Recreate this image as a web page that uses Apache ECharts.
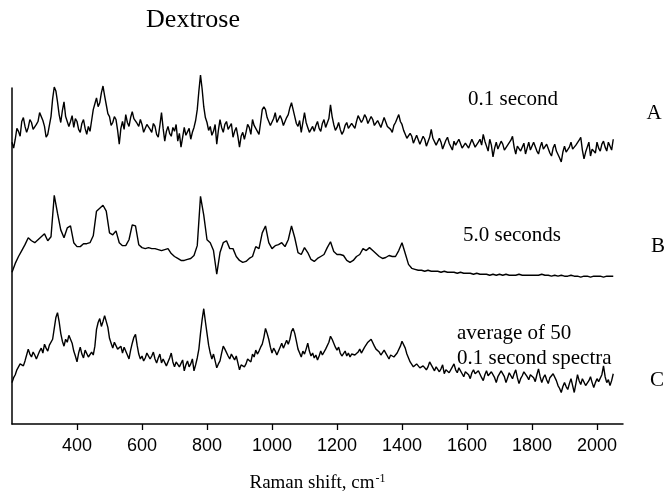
<!DOCTYPE html>
<html>
<head>
<meta charset="utf-8">
<script src="https://cdn.jsdelivr.net/npm/echarts@6/dist/echarts.min.js"></script>
<style>
html,body{margin:0;padding:0;background:#fff;}
#chart{width:668px;height:498px;}
</style>
</head>
<body>
<div id="chart"></div>
<script>
// Raman shift of the first reading (cm-1) and spacing of readings per trace
const shiftStart = 200;
const stepA = 5;
const stepB = 10;
const stepC = 5;

// Trace A: 0.1 second (stacked intensity, arbitrary units), 200..2050 every 5 cm-1
const traceA = [
  286,280,289,300,297,292,307,311,302,296,301,309,306,299,297,304,307,316,314,308,
  302,291,294,303,312,330,342,338,327,314,306,318,327,312,314,302,307,313,301,310,
  307,299,296,305,309,300,294,302,297,308,319,325,331,322,326,336,343,333,324,315,
  312,303,306,312,309,298,284,300,307,299,314,306,302,311,317,310,312,305,302,309,
  304,296,297,304,306,299,296,305,302,294,291,303,316,300,287,297,302,295,292,301,
  297,304,287,295,281,291,301,293,294,300,289,296,301,308,319,338,354,340,322,311,
  306,298,302,293,297,304,284,298,309,301,296,304,307,299,297,305,291,297,301,292,
  281,292,296,289,296,304,301,294,309,303,301,297,294,306,319,322,319,311,309,303,
  304,310,316,306,307,313,309,303,304,311,314,321,326,319,312,305,302,308,296,306,
  316,306,301,296,294,302,297,303,307,300,297,305,309,301,302,310,324,312,304,298,
  301,306,299,294,297,303,306,300,299,305,304,300,307,313,312,306,309,314,311,305,
  306,312,309,303,302,308,307,301,306,311,309,302,304,299,296,303,306,310,314,307,
  304,298,294,290,289,295,292,285,287,293,291,284,286,292,289,282,284,291,299,290,
  289,283,282,290,286,279,281,288,291,285,284,278,287,283,281,289,287,280,279,285,
  286,280,282,289,287,281,279,286,289,283,294,287,282,277,289,283,271,280,286,279,
  281,287,284,278,276,283,282,288,292,281,274,282,284,277,279,285,274,280,286,278,
  279,286,284,277,274,281,286,279,277,284,282,275,272,280,284,277,276,270,266,276,
  282,276,274,281,286,279,277,283,284,288,291,278,269,276,281,286,272,279,281,275,
  286,280,277,284,287,281,277,286,284,278,289];

// Trace B: 5.0 seconds, 200..2050 every 10 cm-1
const traceB = [154,
  163,170,176,182,189,186,184,187,190,
  193,186,190,232,214,197,189,199,201,184,
  180,180,183,183,184,191,216,219,222,216,
  194,192,196,184,181,181,187,202,201,182,
  179,178,179,178,178,177,176,177,178,173,
  170,168,166,166,167,168,171,181,231,212,
  187,184,176,152,174,184,186,178,178,170,
  166,164,165,168,170,180,178,194,201,184,
  178,181,182,184,180,187,201,189,174,172,
  179,174,167,165,168,170,172,179,185,175,
  172,172,171,166,164,166,170,172,178,176,
  179,176,173,170,168,169,171,170,170,176,
  184,173,162,158,157,156,156,155,156,155,
  155,155,154,155,154,154,154,153,154,153,
  153,153,152,153,152,152,152,151,152,151,
  152,151,152,151,151,151,152,151,151,151,
  151,151,151,152,151,151,150,151,150,151,
  150,150,151,150,150,149,150,150,149,150,
  150,150,149,150,150,150];

// Trace C: average of 50 spectra of 0.1 second, 200..2050 every 5 cm-1
const traceC = [
  42,47,50,55,57,61,62,59,64,70,76,71,68,73,70,66,68,74,77,72,
  81,77,74,80,79,86,97,108,113,104,92,84,79,86,83,90,91,82,74,69,
  63,72,78,71,67,75,74,68,66,73,70,79,96,103,107,99,104,110,111,98,
  87,82,77,83,81,76,74,79,72,78,77,70,66,75,82,88,91,80,71,66,
  69,64,67,72,71,66,69,73,66,62,67,71,62,66,64,59,61,67,72,63,
  58,63,64,58,59,65,54,60,64,58,61,66,54,60,67,76,92,106,117,104,
  92,80,72,66,71,64,57,61,64,72,79,76,74,69,66,71,72,65,69,62,
  55,60,62,58,61,66,67,63,71,68,75,71,74,78,81,88,97,92,86,78,
  72,77,74,70,72,78,82,77,81,85,81,86,94,97,92,84,76,72,68,74,
  71,76,82,74,69,72,67,70,65,69,74,70,72,76,77,83,89,86,82,78,
  75,78,72,69,71,74,69,72,68,71,73,70,69,73,76,72,75,78,79,83,
  82,86,84,79,76,74,73,70,71,75,72,69,66,70,71,68,69,72,74,79,
  84,82,77,71,67,63,61,58,57,61,62,57,55,59,60,55,58,63,62,57,
  54,58,59,53,56,60,51,55,57,52,53,58,61,55,52,57,56,51,48,53,
  55,50,46,52,55,51,49,54,53,47,44,50,54,49,47,53,52,47,42,48,
  50,54,55,48,42,47,52,49,46,51,55,47,41,46,49,53,54,48,45,50,
  52,47,43,50,56,48,42,47,50,45,41,47,46,51,49,44,39,36,32,38,
  42,38,35,41,46,39,32,41,50,44,40,46,44,39,38,44,48,42,37,42,
  46,43,41,50,59,48,42,45,39,44,51];

const xTicks = [400, 600, 800, 1000, 1200, 1400, 1600, 1800, 2000];

function pairs(vals, step) {
  return vals.map((v, i) => [shiftStart + i * step, v]);
}

const chart = echarts.init(document.getElementById('chart'), null, {renderer: 'canvas'});
const serif = '"Liberation Serif", "Times New Roman", serif';
const sans = '"Liberation Sans", Arial, sans-serif';

function lineSeries(name, vals, step) {
  return {
    name: name,
    type: 'line',
    data: pairs(vals, step),
    showSymbol: false,
    symbol: 'none',
    clip: false,
    lineStyle: {color: '#000', width: 1.4},
    silent: true
  };
}

function txt(text, x, y, align, size) {
  return {
    type: 'text',
    style: {
      text: text, x: x, y: y,
      fill: '#000',
      font: size + 'px ' + serif,
      textAlign: align, align: align,
      textVerticalAlign: 'middle', verticalAlign: 'middle'
    }
  };
}

chart.setOption({
  animation: false,
  backgroundColor: '#fff',
  grid: {left: 12, right: 45, top: 88, bottom: 69, containLabel: false},
  xAxis: {
    type: 'value',
    min: 200, max: 2080, interval: 200,
    name: '{a|Raman shift, cm}{s|-1}',
    nameLocation: 'middle',
    nameGap: 49,
    nameTextStyle: {
      rich: {
        a: {fontFamily: serif, fontSize: 19, color: '#000', verticalAlign: 'bottom', lineHeight: 20},
        s: {fontFamily: serif, fontSize: 12, color: '#000', verticalAlign: 'bottom', lineHeight: 20, padding: [0, 0, 8, 1]}
      }
    },
    axisLine: {show: true, lineStyle: {color: '#000', width: 1.5}},
    axisTick: {show: true, inside: false, length: 6, lineStyle: {color: '#000', width: 1.3}},
    axisLabel: {
      color: '#000', fontFamily: sans, fontSize: 18, margin: 13,
      showMinLabel: false, showMaxLabel: false,
      formatter: v => (xTicks.indexOf(v) >= 0 ? String(v) : '')
    },
    splitLine: {show: false}
  },
  yAxis: {
    type: 'value',
    min: 0, max: 341,
    axisLine: {show: true, lineStyle: {color: '#000', width: 1.5}},
    axisTick: {show: false},
    axisLabel: {show: false},
    splitLine: {show: false}
  },
  series: [
    lineSeries('A', traceA, stepA),
    lineSeries('B', traceB, stepB),
    lineSeries('C', traceC, stepC)
  ],
  graphic: [
    txt('Dextrose', 193, 20, 'center', 26),
    txt('0.1 second', 513, 99, 'center', 21),
    txt('A', 654, 113, 'center', 21),
    txt('5.0 seconds', 512, 235, 'center', 21),
    txt('B', 658, 246, 'center', 21),
    txt('average of 50', 457, 333, 'left', 21),
    txt('0.1 second spectra', 457, 358, 'left', 21),
    txt('C', 657, 380, 'center', 21)
  ]
});
</script>
</body>
</html>
